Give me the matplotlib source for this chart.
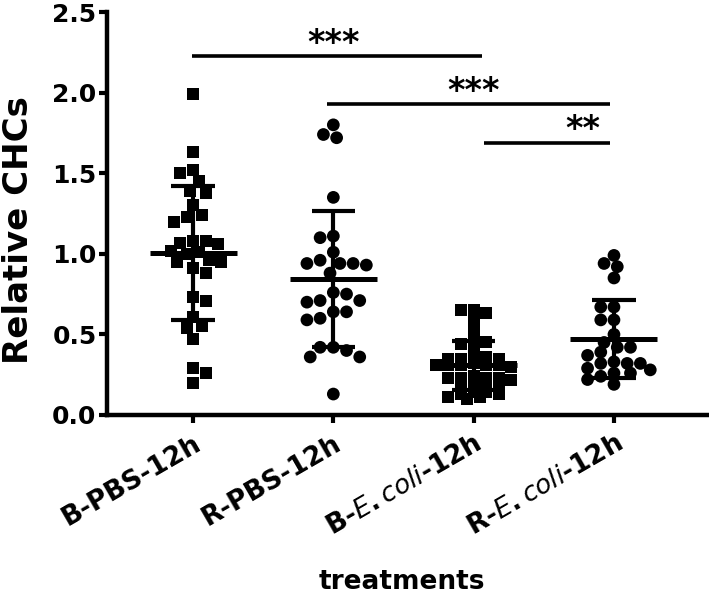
import numpy as np
import matplotlib
matplotlib.use("Agg")
import matplotlib.pyplot as plt

plt.rcParams['font.family'] = ['DejaVu Sans']
plt.rcParams['mathtext.fontset'] = 'custom'
plt.rcParams['mathtext.it'] = 'DejaVu Sans:italic'
plt.rcParams['mathtext.rm'] = 'DejaVu Sans:bold'

categories = ["B-PBS-12h", "R-PBS-12h", r"B-$\mathit{E.coli}$-12h", r"R-$\mathit{E.coli}$-12h"]

b_pbs = [1.99, 1.63, 1.52, 1.50, 1.45, 1.39, 1.38, 1.30, 1.24, 1.20, 1.23,
         1.08, 1.07, 1.06, 1.08, 1.01, 1.00, 1.02, 0.95, 0.95, 0.96,
         0.91, 0.88, 0.73, 0.71, 0.61, 0.55, 0.54, 0.47, 0.29, 0.26, 0.20]
r_pbs = [1.80, 1.74, 1.72, 1.35, 1.11, 1.10, 1.01, 0.94, 0.94, 0.94, 0.93,
         0.96, 0.88, 0.76, 0.75, 0.71, 0.71, 0.70, 0.64, 0.64, 0.60, 0.59,
         0.42, 0.42, 0.40, 0.36, 0.36, 0.13]
b_ecoli = [0.65, 0.65, 0.63, 0.58, 0.52, 0.45, 0.46, 0.41, 0.44,
           0.35, 0.36, 0.35, 0.35, 0.36, 0.31, 0.31, 0.30, 0.31, 0.31, 0.32, 0.31,
           0.23, 0.23, 0.24, 0.23, 0.22, 0.23, 0.18, 0.17, 0.18, 0.17,
           0.14, 0.13, 0.14, 0.13, 0.11, 0.10, 0.11]
r_ecoli = [0.99, 0.92, 0.94, 0.85, 0.67, 0.67, 0.59, 0.59, 0.45, 0.50,
           0.42, 0.39, 0.37, 0.42, 0.32, 0.32, 0.33, 0.32, 0.26, 0.24,
           0.29, 0.26, 0.28, 0.22, 0.19]
groups = [b_pbs, r_pbs, b_ecoli, r_ecoli]
markers = ['s', 'o', 's', 'o']

yticks = [0.0, 0.5, 1.0, 1.5, 2.0, 2.5]
sig_pairs = [(-0.01, 2.06), (0.955, 2.97), (2.075, 2.97)]
sig_heights = [2.224, 1.93, 1.69]
sig_text_x = [1.0, 2.0, 2.78]
sig_labels = ["***", "***", "**"]

# swarm packing (vertical exclusion factor) per group
packing = [1.0, 1.0, 0.45, 0.75]

W, H = 709, 597
fig = plt.figure(figsize=(W/100, H/100), dpi=100)
ax_l, ax_r, ax_t, ax_b = 107, 707, 12, 415
ax = fig.add_axes([ax_l/W, 1-ax_b/H, (ax_r-ax_l)/W, (ax_b-ax_t)/H])
xlim = (-0.613, 3.663)
ax.set_xlim(*xlim)
ax.set_ylim(0, 2.5)

xpx = (ax_r-ax_l)/(xlim[1]-xlim[0])
ypx = (ax_b-ax_t)/2.5

def swarm(vals, d, vfac):
    """Swarm layout with an elliptical exclusion zone (pixel units)."""
    vals = np.asarray(vals, float)
    order = np.argsort(-vals, kind='stable')
    placed = []
    offs = np.zeros(len(vals))
    for k, idx in enumerate(order):
        yv = vals[idx]*ypx
        sgn = 1 if k % 2 else -1
        cands = sorted(np.arange(-8*d, 8*d+0.01, d/4), key=lambda c: (abs(round(c, 6)), sgn*c))
        for c in cands:
            if all(((c-px)/d)**2 + ((yv-py)/(vfac*d))**2 >= 0.97 for px, py in placed):
                break
        placed.append((c, yv))
        offs[idx] = c/xpx
    return offs

for i, (vals, m) in enumerate(zip(groups, markers)):
    d = 12.6 if m == 's' else 13.2
    offs = swarm(vals, d, packing[i])
    s = 75 if m == 's' else 84
    ax.scatter(i + offs, vals, marker=m, s=s, color='black', edgecolors='none', zorder=3)
    mean = np.mean(vals)
    sd = np.std(vals, ddof=1)
    ax.plot([i-0.31, i+0.31], [mean, mean], color='black', lw=3.6, solid_capstyle='butt', zorder=4)
    ax.plot([i, i], [mean-sd, mean+sd], color='black', lw=3.0, solid_capstyle='butt', zorder=4)
    for yy in (mean-sd, mean+sd):
        ax.plot([i-0.155, i+0.155], [yy, yy], color='black', lw=3.0, solid_capstyle='butt', zorder=4)

for (x0, x1), h, tx, lab in zip(sig_pairs, sig_heights, sig_text_x, sig_labels):
    ax.plot([x0, x1], [h, h], color='black', lw=2.6, solid_capstyle='butt', clip_on=False)
    ax.text(tx, h + 0.02, lab, ha='center', va='baseline', fontsize=24, fontweight='bold')

for sp in ['top', 'right']:
    ax.spines[sp].set_visible(False)
for sp in ['left', 'bottom']:
    ax.spines[sp].set_linewidth(3.2)
    ax.spines[sp].set_capstyle('projecting')

ax.set_yticks(yticks)
ax.set_yticklabels([f"{v:.1f}" for v in yticks], fontsize=18, fontweight='bold')
ax.tick_params(axis='both', width=3.0, length=5.5, direction='out')
ax.tick_params(axis='y', pad=2)
ax.set_xticks(range(len(categories)))
ax.set_xticklabels(categories, fontsize=19, fontweight='bold', rotation=30,
                   ha='right', va='top', rotation_mode='anchor')
ax.tick_params(axis='x', pad=6)

fig.text(19/W, 1-230/H, "Relative CHCs", rotation=90, ha='center', va='center',
         fontsize=24.5, fontweight='bold')
fig.text(402/W, 1-582/H, "treatments", ha='center', va='center',
         fontsize=19, fontweight='bold')

fig.savefig("out.png", dpi=100)
